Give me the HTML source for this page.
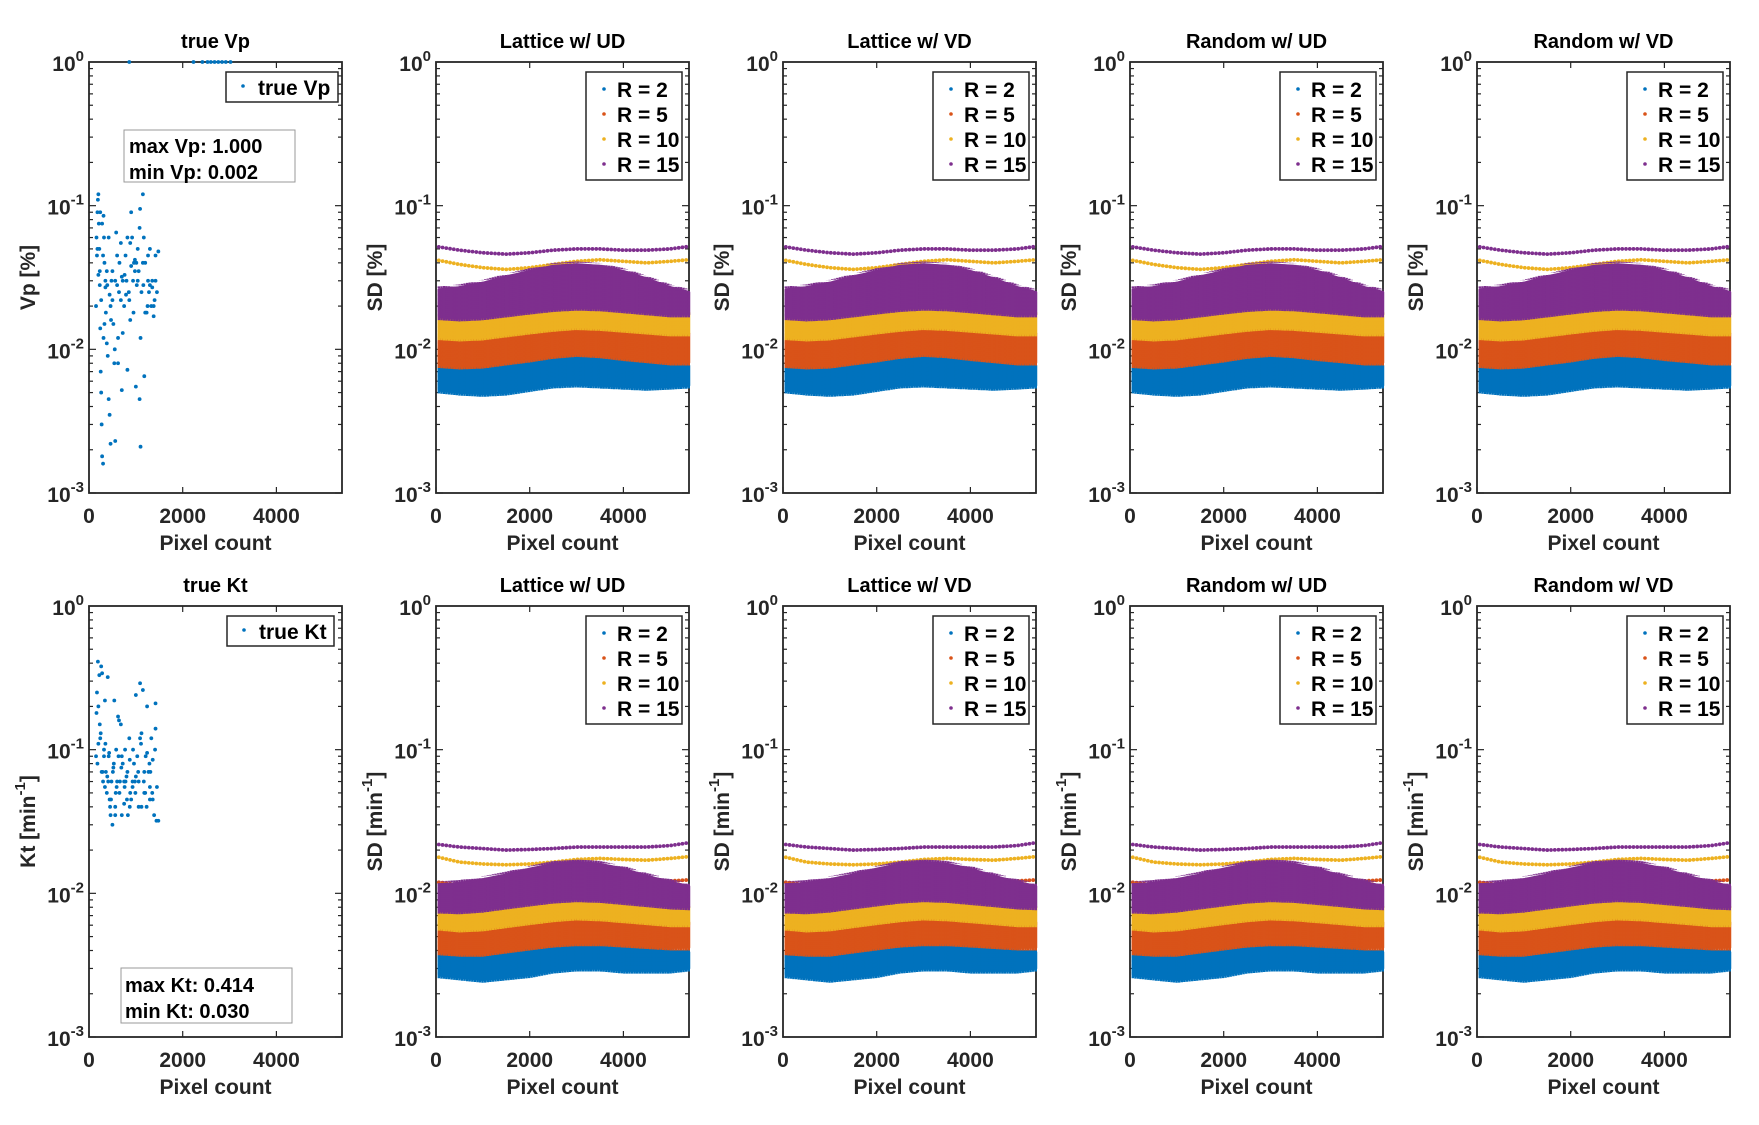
<!DOCTYPE html>
<html><head><meta charset="utf-8">
<style>
html,body{margin:0;padding:0;background:#fff;}
svg{display:block;font-family:"Liberation Sans",Arial,sans-serif;font-weight:bold;}
</style></head>
<body>
<svg id="fig" width="1759" height="1125" viewBox="0 0 1759 1125" xmlns="http://www.w3.org/2000/svg"></svg>
<script>
// ---- data ----
const xTicks = [0, 2000, 4000];
const yTickExps = [0, -1, -2, -3];
const seriesNames = ["R = 2", "R = 5", "R = 10", "R = 15"];
const seriesColors = ["#0072BD", "#D95319", "#EDB120", "#7E2F8E"];
const knotX = [0, 500, 1000, 1500, 2000, 2500, 3000, 3500, 4000, 4500, 5000, 5400];
// top row SD [%] band envelopes
const vpLow2  = [0.0052,0.005,0.0049,0.005,0.0053,0.0056,0.0057,0.0056,0.0055,0.0054,0.0055,0.0056];
const vpHigh2 = [0.0078,0.0075,0.0077,0.0081,0.0086,0.0091,0.0094,0.0092,0.0087,0.0083,0.0079,0.0077];
const vpLow5  = [0.0078,0.0076,0.0077,0.0081,0.0085,0.009,0.0093,0.0091,0.0087,0.0084,0.0081,0.0081];
const vpHigh5 = [0.0128,0.0123,0.0127,0.0134,0.0144,0.0152,0.0156,0.0154,0.0146,0.0138,0.0131,0.0129];
const vpLow10 = [0.0122,0.0119,0.0121,0.0127,0.0133,0.0139,0.0143,0.0141,0.0137,0.0133,0.0129,0.0129];
const vpHigh10= [0.0175,0.017,0.0175,0.0185,0.0195,0.0203,0.0208,0.0204,0.0195,0.0186,0.018,0.018];
const vpLow15 = [0.0168,0.0164,0.0167,0.0175,0.0183,0.0191,0.0195,0.0193,0.0187,0.0181,0.0175,0.0175];
const vpHigh15= [0.026,0.027,0.029,0.032,0.035,0.038,0.039,0.038,0.035,0.031,0.027,0.025];
const vpTop15 = [0.052,0.049,0.047,0.046,0.047,0.049,0.05,0.05,0.049,0.049,0.05,0.052];
const vpTop10 = [0.042,0.039,0.037,0.036,0.037,0.039,0.041,0.042,0.041,0.04,0.041,0.042];
// bottom row SD [min^-1] band envelopes
const ktLow2  = [0.0027,0.0026,0.0025,0.0026,0.0027,0.0029,0.003,0.003,0.0029,0.0029,0.0029,0.003];
const ktHigh2 = [0.0039,0.0038,0.0039,0.0041,0.0044,0.0047,0.0048,0.0047,0.0045,0.0042,0.004,0.0039];
const ktLow5  = [0.0039,0.0038,0.0038,0.004,0.0042,0.0044,0.0045,0.0045,0.0044,0.0043,0.0042,0.0042];
const ktHigh5 = [0.0062,0.006,0.0062,0.0065,0.0069,0.0072,0.0074,0.0073,0.007,0.0067,0.0064,0.0063];
const ktLow10 = [0.0058,0.0056,0.0057,0.006,0.0063,0.0066,0.0068,0.0067,0.0065,0.0063,0.0061,0.0061];
const ktHigh10= [0.0081,0.0079,0.0081,0.0085,0.0089,0.0093,0.0095,0.0093,0.009,0.0086,0.0083,0.0081];
const ktLow15 = [0.0076,0.0075,0.0077,0.0081,0.0085,0.0089,0.0091,0.009,0.0087,0.0084,0.0081,0.008];
const ktHigh15= [0.0115,0.0118,0.0125,0.0135,0.0148,0.016,0.0165,0.016,0.0148,0.0132,0.012,0.0112];
const ktTop15 = [0.022,0.021,0.0205,0.02,0.0202,0.0205,0.021,0.021,0.021,0.021,0.0215,0.0225];
const ktTop10 = [0.018,0.0165,0.016,0.0158,0.016,0.0165,0.0172,0.0175,0.0172,0.017,0.0175,0.018];
const ktTop5  = [0.012,0.0115,0.011,0.0108,0.011,0.0112,0.0114,0.0116,0.0118,0.012,0.0122,0.0124];
// true Vp scatter
const vpX = [150,170,180,190,200,210,220,230,240,250,260,270,280,300,310,320,330,350,360,380,400,420,440,460,480,500,520,540,560,580,600,620,650,680,700,720,750,780,800,820,850,880,900,920,950,980,1000,1020,1040,1060,1080,1100,1120,1150,1180,1200,1230,1260,1280,1300,1330,1350,1380,1400,1420,1450,1480,200,260,330,420,500,640,720,860,980,1100,1200,1300,1420,160,240,300,380,460,560,680,760,900,1040,1150,1250,1350,180,280,350,440,600,820,960,1080,1160,1260,1380,230,310,390,470,550,620,700,790,880,940,1010,1090,1170];
const vpY = [0.02,0.045,0.09,0.11,0.12,0.075,0.05,0.028,0.014,0.007,0.005,0.003,0.0018,0.0016,0.085,0.06,0.04,0.027,0.018,0.011,0.009,0.0045,0.0035,0.0022,0.03,0.022,0.015,0.008,0.0023,0.065,0.028,0.012,0.04,0.055,0.0052,0.03,0.02,0.045,0.03,0.0072,0.025,0.055,0.09,0.06,0.018,0.035,0.0055,0.028,0.05,0.035,0.0045,0.0021,0.025,0.12,0.0065,0.04,0.018,0.03,0.025,0.05,0.02,0.03,0.017,0.022,0.045,0.025,0.048,0.033,0.022,0.015,0.06,0.035,0.025,0.013,0.022,0.042,0.012,0.018,0.028,0.03,0.06,0.09,0.045,0.035,0.02,0.03,0.022,0.033,0.038,0.03,0.04,0.02,0.027,0.05,0.075,0.03,0.024,0.045,0.06,0.04,0.07,0.028,0.045,0.02,0.035,0.012,0.028,0.016,0.01,0.008,0.032,0.024,0.016,0.03,0.04,0.095,0.06,0.02];
const vpTopX = [860,2230,2420,2530,2600,2680,2760,2840,2920,3020];
const vpTopY = [1,1,1,1,1,1,1,1,1,1];
// true Kt scatter
const ktX = [150,170,190,200,220,240,260,280,300,320,340,360,380,400,420,440,460,480,500,520,540,560,580,600,620,650,680,700,720,750,780,800,830,860,900,930,960,1000,1030,1060,1090,1120,1150,1180,1210,1240,1270,1300,1330,1360,1390,1420,1450,1480,160,230,290,350,410,470,530,590,640,700,760,820,880,940,1000,1060,1120,1180,1240,1300,1360,1420,180,250,320,390,450,510,570,630,690,750,810,870,930,990,1050,1110,1170,1230,1290,1350,1410,200,270,340,430,560,660,770,870,980,1090,1200,1310,1440];
const ktY = [0.09,0.25,0.41,0.2,0.33,0.12,0.38,0.34,0.06,0.1,0.22,0.07,0.05,0.32,0.09,0.045,0.035,0.06,0.03,0.075,0.22,0.04,0.1,0.06,0.17,0.05,0.15,0.035,0.08,0.042,0.06,0.065,0.035,0.12,0.045,0.055,0.08,0.24,0.09,0.06,0.29,0.04,0.26,0.05,0.09,0.2,0.07,0.045,0.12,0.085,0.035,0.21,0.055,0.032,0.18,0.15,0.07,0.11,0.06,0.045,0.08,0.055,0.16,0.09,0.055,0.07,0.05,0.1,0.065,0.04,0.13,0.07,0.095,0.055,0.045,0.14,0.08,0.13,0.09,0.065,0.04,0.07,0.05,0.09,0.075,0.06,0.045,0.085,0.06,0.05,0.07,0.11,0.06,0.04,0.08,0.05,0.1,0.11,0.07,0.055,0.095,0.035,0.06,0.1,0.04,0.06,0.12,0.05,0.07,0.032];

// ---- layout ----
const svg = document.getElementById('fig');
const NS = 'http://www.w3.org/2000/svg';
const colLeft = [89, 436, 783, 1130, 1477];
const axW = 253;
const rowTop = [62, 606];
const axH = 431;
const xMax = 5400;

function mk(tag, attrs, parent) {
  const e = document.createElementNS(NS, tag);
  for (const k in attrs) e.setAttribute(k, attrs[k]);
  (parent || svg).appendChild(e);
  return e;
}
function xs(L) { return v => L + v / xMax * axW; }
function ys(T) { return v => T + axH * (-Math.log10(v)) / 3; }

function drawAxes(L, T, title, ylabel, yExpLabel, name) {
  const g = mk('g', {});
  
  
  const X = xs(L), Y = ys(T);
  for (let d = 0; d < 3; d++) {
    for (let m = 1; m <= 9; m++) {
      const v = m * Math.pow(10, -3 + d);
      const y = Y(v);
      const len = m === 1 ? 7 : 4;
      mk('line', {x1: L, x2: L + len, y1: y, y2: y, stroke: '#262626', 'stroke-width': 1.2}, g);
      mk('line', {x1: L + axW, x2: L + axW - len, y1: y, y2: y, stroke: '#262626', 'stroke-width': 1.2}, g);
    }
  }
  xTicks.forEach(t => {
    const x = X(t);
    mk('line', {x1: x, x2: x, y1: T + axH, y2: T + axH - 6, stroke: '#262626', 'stroke-width': 1.2}, g);
    mk('line', {x1: x, x2: x, y1: T, y2: T + 6, stroke: '#262626', 'stroke-width': 1.2}, g);
    const tl = mk('text', {x: x, y: T + axH + 30, 'text-anchor': 'middle', 'font-size': 21, fill: '#262626'}, g);
    
    
    tl.textContent = t;
  });
  yTickExps.forEach(e => {
    const y = Y(Math.pow(10, e));
    const tl = mk('text', {x: L - 5, y: y + 9, 'text-anchor': 'end', 'font-size': 21, fill: '#262626'}, g);
    
    
    const a = mk('tspan', {}, tl); a.textContent = '10';
    const b = mk('tspan', {dy: -10, 'font-size': 15}, tl); b.textContent = e;
  });
  mk('rect', {x: L, y: T, width: axW, height: axH, fill: 'none', stroke: '#262626', 'stroke-width': 1.8}, g);
  const tt = mk('text', {x: L + axW / 2, y: T - 14, 'text-anchor': 'middle', 'font-size': 20, fill: '#000'}, g);
  
  
  tt.textContent = title;
  const xl = mk('text', {x: L + axW / 2, y: T + axH + 57, 'text-anchor': 'middle', 'font-size': 21, fill: '#262626'}, g);
  
  
  xl.textContent = 'Pixel count';
  const cy = T + axH / 2;
  const yl = mk('text', {x: 0, y: 0, 'text-anchor': 'middle', 'font-size': 21, fill: '#262626', transform: `translate(${L - 54},${cy}) rotate(-90)`}, g);
  
  
  const s1 = mk('tspan', {}, yl); s1.textContent = ylabel;
  if (yExpLabel) {
    const s2 = mk('tspan', {dy: -10, 'font-size': 15}, yl); s2.textContent = '-1';
    const s3 = mk('tspan', {dy: 10}, yl); s3.textContent = ']';
  }
  return g;
}

function interp(arr, x) {
  for (let i = 0; i < knotX.length - 1; i++) {
    if (x <= knotX[i + 1]) {
      const t = (x - knotX[i]) / (knotX[i + 1] - knotX[i]);
      return Math.exp(Math.log(arr[i]) * (1 - t) + Math.log(arr[i + 1]) * t);
    }
  }
  return arr[arr.length - 1];
}

function drawBand(g, L, T, lo, hi, color) {
  const X = xs(L), Y = ys(T);
  const b = mk('g', {}, g);
  
  
  let p = '';
  for (let v = 60; v <= xMax; v += 60) p += (p ? 'L' : 'M') + X(v).toFixed(1) + ',' + Y(interp(hi, v)).toFixed(1);
  for (let v = xMax; v >= 60; v -= 60) p += 'L' + X(v).toFixed(1) + ',' + Y(interp(lo, v)).toFixed(1);
  mk('path', {d: p + 'Z', fill: color, stroke: color, 'stroke-width': 2.5, 'stroke-linejoin': 'round'}, b);
  // stripes with slight ragged extension for texture
  let d = '';
  for (let v = 60; v <= xMax; v += 55) {
    const x = X(v);
    d += `M${x.toFixed(1)},${(Y(interp(lo, v)) + 3).toFixed(1)}V${(Y(interp(hi, v)) - 3).toFixed(1)}`;
  }
  mk('path', {d: d, stroke: color, 'stroke-width': 2.4, 'stroke-dasharray': '2.5 1.5', fill: 'none'}, b);
}
function drawDotLine(g, L, T, arr, color) {
  const X = xs(L), Y = ys(T);
  const b = mk('g', {}, g);
  
  
  for (let v = 60; v <= xMax; v += 80) {
    mk('circle', {cx: X(v), cy: Y(interp(arr, v)), r: 1.9, fill: color}, b);
  }
}
function drawLegend(g, L, T) {
  const lx = L + axW - 103, ly = T + 10;
  const lg = mk('g', {}, g);
  
  
  mk('rect', {x: lx, y: ly, width: 96, height: 108, fill: '#fff', stroke: '#262626', 'stroke-width': 1.5}, lg);
  seriesNames.forEach((n, i) => {
    const e = mk('g', {}, lg);
    
    
    const cy = ly + 18 + i * 25;
    mk('circle', {cx: lx + 18, cy: cy - 1, r: 1.8, fill: seriesColors[i]}, e);
    const t = mk('text', {x: lx + 31, y: cy + 7, 'font-size': 21, fill: '#000'}, e);
    t.textContent = n;
  });
}

const titles = ['Lattice w/ UD', 'Lattice w/ VD', 'Random w/ UD', 'Random w/ VD'];
{
  const L = colLeft[0], T = rowTop[0];
  const g = drawAxes(L, T, 'true Vp', 'Vp [%]', false, 'true-vp-panel');
  const X = xs(L), Y = ys(T);
  vpX.forEach((x, i) => { const c = mk('circle', {cx: X(x), cy: Y(vpY[i]), r: 1.9, fill: '#0072BD'}, g);   });
  vpTopX.forEach((x, i) => mk('circle', {cx: X(x), cy: Y(vpTopY[i]), r: 1.9, fill: '#0072BD'}, g));
  const lg = mk('g', {}, g);
  
  
  mk('rect', {x: 226, y: 72, width: 112, height: 30, fill: '#fff', stroke: '#262626', 'stroke-width': 1.5}, lg);
  mk('circle', {cx: 243, cy: 86, r: 1.8, fill: '#0072BD'}, lg);
  const lt = mk('text', {x: 258, y: 95, 'font-size': 21}, lg); lt.textContent = 'true Vp';
  const tb = mk('g', {}, g);
  
  
  mk('rect', {x: 124, y: 130, width: 171, height: 52, fill: '#fff', stroke: '#999', 'stroke-width': 1}, tb);
  const t1 = mk('text', {x: 129, y: 153, 'font-size': 20}, tb); t1.textContent = 'max Vp: 1.000';
  const t2 = mk('text', {x: 129, y: 179, 'font-size': 20}, tb); t2.textContent = 'min Vp: 0.002';
}
for (let c = 1; c < 5; c++) {
  const L = colLeft[c], T = rowTop[0];
  const g = drawAxes(L, T, titles[c - 1], 'SD [%]', false, 'sd-vp-panel-' + c);
  drawDotLine(g, L, T, vpTop10, seriesColors[2]);
  drawDotLine(g, L, T, vpTop15, seriesColors[3]);
  drawBand(g, L, T, vpLow2, vpHigh2, seriesColors[0]);
  drawBand(g, L, T, vpLow5, vpHigh5, seriesColors[1]);
  drawBand(g, L, T, vpLow10, vpHigh10, seriesColors[2]);
  drawBand(g, L, T, vpLow15, vpHigh15, seriesColors[3]);
  drawLegend(g, L, T);
}
{
  const L = colLeft[0], T = rowTop[1];
  const g = drawAxes(L, T, 'true Kt', 'Kt [min', true, 'true-kt-panel');
  const X = xs(L), Y = ys(T);
  ktX.forEach((x, i) => { const c = mk('circle', {cx: X(x), cy: Y(ktY[i]), r: 1.9, fill: '#0072BD'}, g);   });
  const lg = mk('g', {}, g);
  
  
  mk('rect', {x: 227, y: 616, width: 107, height: 30, fill: '#fff', stroke: '#262626', 'stroke-width': 1.5}, lg);
  mk('circle', {cx: 244, cy: 630, r: 1.8, fill: '#0072BD'}, lg);
  const lt = mk('text', {x: 259, y: 639, 'font-size': 21}, lg); lt.textContent = 'true Kt';
  const tb = mk('g', {}, g);
  
  
  mk('rect', {x: 121, y: 968, width: 171, height: 55, fill: '#fff', stroke: '#999', 'stroke-width': 1}, tb);
  const t1 = mk('text', {x: 125, y: 992, 'font-size': 20}, tb); t1.textContent = 'max Kt: 0.414';
  const t2 = mk('text', {x: 125, y: 1018, 'font-size': 20}, tb); t2.textContent = 'min Kt: 0.030';
}
for (let c = 1; c < 5; c++) {
  const L = colLeft[c], T = rowTop[1];
  const g = drawAxes(L, T, titles[c - 1], 'SD [min', true, 'sd-kt-panel-' + c);
  drawDotLine(g, L, T, ktTop5, seriesColors[1]);
  drawDotLine(g, L, T, ktTop10, seriesColors[2]);
  drawDotLine(g, L, T, ktTop15, seriesColors[3]);
  drawBand(g, L, T, ktLow2, ktHigh2, seriesColors[0]);
  drawBand(g, L, T, ktLow5, ktHigh5, seriesColors[1]);
  drawBand(g, L, T, ktLow10, ktHigh10, seriesColors[2]);
  drawBand(g, L, T, ktLow15, ktHigh15, seriesColors[3]);
  drawLegend(g, L, T);
}
</script>
</body></html>
